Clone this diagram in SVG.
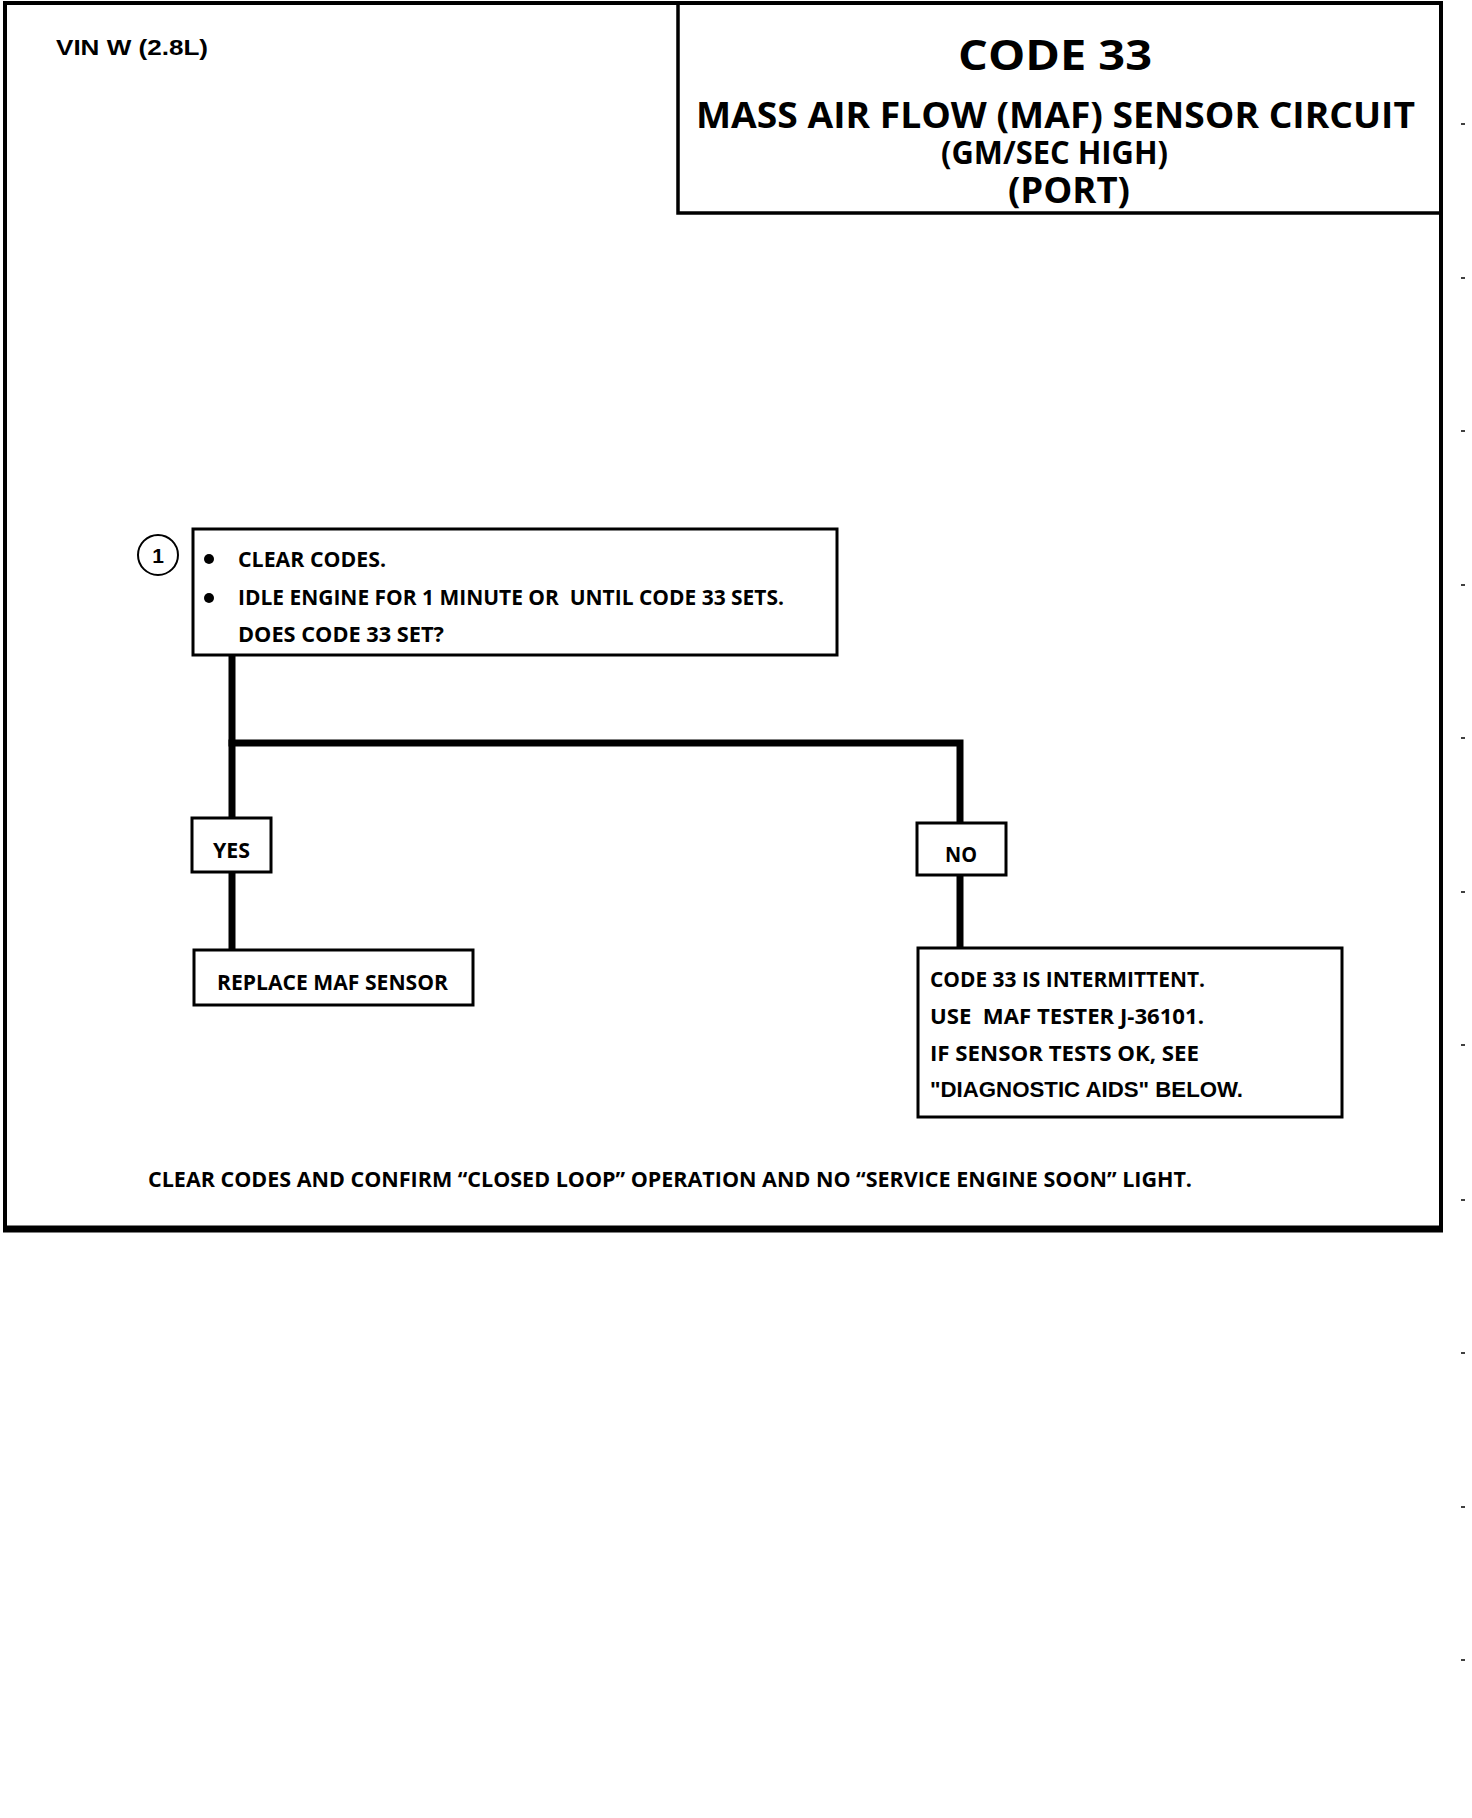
<svg xmlns="http://www.w3.org/2000/svg" width="1472" height="1818" viewBox="0 0 1472 1818">
<style>
.bg{fill:#fff}
.box{fill:#fff;stroke:#000;stroke-width:3}
.conn{fill:none;stroke:#000;stroke-width:7;stroke-linecap:square}
.frame{fill:none;stroke:#000;stroke-width:4}
.gm{font-family:"Open Sans","Noto Sans",sans-serif;font-weight:bold;fill:#000}
.hv{font-family:"Liberation Sans",Arial,sans-serif;font-weight:bold;fill:#000}
.tick{stroke:#000;stroke-width:1.5}
</style>
<rect class="bg" x="0" y="0" width="1472" height="1818"/>
<g id="frame">
<line class="frame" x1="3" y1="3" x2="1443" y2="3"/>
<line class="frame" x1="5" y1="3" x2="5" y2="1232"/>
<line class="frame" x1="1441" y1="3" x2="1441" y2="1232"/>
<line x1="3" y1="1229" x2="1443" y2="1229" stroke="#000" stroke-width="7"/>
</g>
<g id="vin">
<text class="hv" x="56" y="55" font-size="22" textLength="152" lengthAdjust="spacingAndGlyphs">VIN W (2.8L)</text>
</g>
<g id="title">
<rect x="678" y="3" width="763" height="210" fill="none" stroke="#000" stroke-width="3.5"/>
<text class="gm" x="958" y="70" font-size="42" textLength="194" lengthAdjust="spacingAndGlyphs">CODE 33</text>
<text class="gm" x="696" y="128" font-size="35" textLength="719" lengthAdjust="spacingAndGlyphs">MASS AIR FLOW (MAF) SENSOR CIRCUIT</text>
<text class="gm" x="941" y="164" font-size="33" textLength="227" lengthAdjust="spacingAndGlyphs">(GM/SEC HIGH)</text>
<text class="gm" x="1008" y="203" font-size="36" textLength="122" lengthAdjust="spacingAndGlyphs">(PORT)</text>
</g>
<g id="connectors">
<polyline class="conn" points="232,657 232,818"/>
<polyline class="conn" points="232,743 960,743 960,823"/>
<polyline class="conn" points="232,872 232,950"/>
<polyline class="conn" points="960,875 960,948"/>
</g>
<g id="step1">
<circle cx="158" cy="555" r="20" fill="#fff" stroke="#000" stroke-width="2"/>
<text class="hv" x="158" y="563" font-size="21" font-weight="normal" text-anchor="middle">1</text>
<rect class="box" x="193" y="529" width="644" height="126"/>
<circle cx="209" cy="559" r="5"/>
<circle cx="209" cy="598" r="5"/>
<text class="gm" x="238" y="567" font-size="22" textLength="148" lengthAdjust="spacingAndGlyphs">CLEAR CODES.</text>
<text class="gm" x="238" y="605" font-size="22" textLength="546" lengthAdjust="spacingAndGlyphs" xml:space="preserve">IDLE ENGINE FOR 1 MINUTE OR  UNTIL CODE 33 SETS.</text>
<text class="gm" x="238" y="642" font-size="22" textLength="206" lengthAdjust="spacingAndGlyphs">DOES CODE 33 SET?</text>
</g>
<g id="yes">
<rect class="box" x="192" y="818" width="79" height="54"/>
<text class="gm" x="213" y="858" font-size="22" textLength="37" lengthAdjust="spacingAndGlyphs">YES</text>
</g>
<g id="no">
<rect class="box" x="917" y="823" width="89" height="52"/>
<text class="gm" x="945" y="862" font-size="22" textLength="32" lengthAdjust="spacingAndGlyphs">NO</text>
</g>
<g id="replace">
<rect class="box" x="194" y="950" width="279" height="55"/>
<text class="gm" x="217" y="990" font-size="22" textLength="231" lengthAdjust="spacingAndGlyphs">REPLACE MAF SENSOR</text>
</g>
<g id="intermittent">
<rect class="box" x="918" y="948" width="424" height="169"/>
<text class="gm" x="930" y="987" font-size="22" textLength="275" lengthAdjust="spacingAndGlyphs">CODE 33 IS INTERMITTENT.</text>
<text class="gm" x="930" y="1024" font-size="22" textLength="274" lengthAdjust="spacingAndGlyphs" xml:space="preserve">USE  MAF TESTER J-36101.</text>
<text class="gm" x="930" y="1061" font-size="22" textLength="269" lengthAdjust="spacingAndGlyphs">IF SENSOR TESTS OK, SEE</text>
<text class="hv" x="930" y="1097" font-size="22" textLength="313" lengthAdjust="spacingAndGlyphs">"DIAGNOSTIC AIDS" BELOW.</text>
</g>
<g id="footer">
<text class="gm" x="148" y="1187" font-size="22" textLength="1044" lengthAdjust="spacingAndGlyphs">CLEAR CODES AND CONFIRM “CLOSED LOOP” OPERATION AND NO “SERVICE ENGINE SOON” LIGHT.</text>
</g>
<g id="artifacts">
<line class="tick" x1="1461" y1="124" x2="1465" y2="124"/>
<line class="tick" x1="1461" y1="278" x2="1465" y2="278"/>
<line class="tick" x1="1461" y1="431" x2="1465" y2="431"/>
<line class="tick" x1="1461" y1="585" x2="1465" y2="585"/>
<line class="tick" x1="1461" y1="738" x2="1465" y2="738"/>
<line class="tick" x1="1461" y1="892" x2="1465" y2="892"/>
<line class="tick" x1="1461" y1="1045" x2="1465" y2="1045"/>
<line class="tick" x1="1461" y1="1200" x2="1465" y2="1200"/>
<line class="tick" x1="1461" y1="1353" x2="1465" y2="1353"/>
<line class="tick" x1="1461" y1="1507" x2="1465" y2="1507"/>
<line class="tick" x1="1461" y1="1660" x2="1465" y2="1660"/>
</g>
</svg>
